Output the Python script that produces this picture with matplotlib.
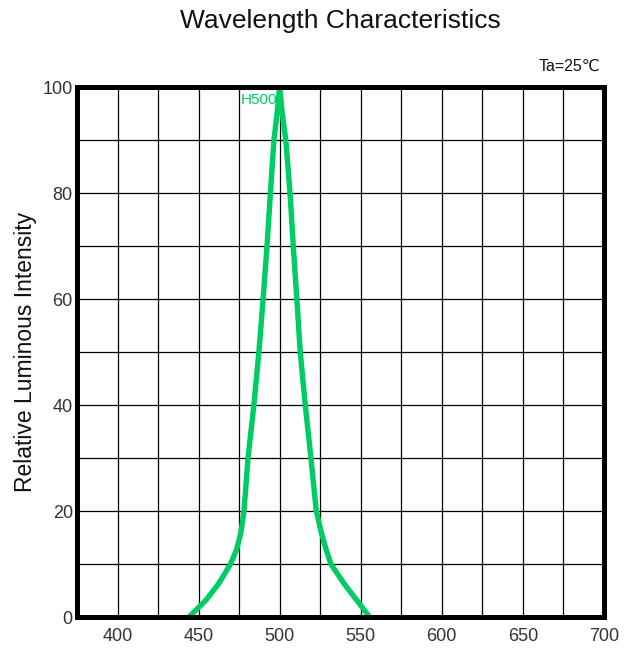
import matplotlib
matplotlib.use('Agg')
import matplotlib.pyplot as plt
import numpy as np

GREEN = '#00CC66'
TEXT = '#111111'

# curve (wavelength nm, relative intensity %)
wavelength = [444, 454.6, 462.6, 469.7, 473.3, 476, 478, 480.5, 484.1, 487.2,
              489.8, 492.2, 494.3, 496.5, 498.4, 500,
              501.6, 503.8, 506.4, 508.4, 510.6, 512.7, 515.8, 519.3, 522.6,
              525.8, 528.8, 531.6, 539.5, 547.5, 555.5]
intensity = [0, 3.2, 6.4, 10, 12.6, 15.8, 20, 30, 40, 50,
             60, 70, 80, 90, 95, 100,
             95, 90, 80, 70, 60, 50, 40, 30, 20,
             15.8, 12.6, 10, 6.4, 3.2, 0]

x_ticks = [400, 450, 500, 550, 600, 650, 700]
y_ticks = [0, 20, 40, 60, 80, 100]

plt.rcParams['font.family'] = ['Liberation Sans', 'DejaVu Sans']

fig = plt.figure(figsize=(6.37, 6.48), dpi=100)
ax = fig.add_axes([0.1209, 0.0478, 0.948 - 0.1209, 0.8657 - 0.0478])

ax.plot(wavelength, intensity, color=GREEN, lw=3.9, solid_capstyle='butt',
        solid_joinstyle='round', zorder=3)

ax.set_xlim(375, 700)
ax.set_ylim(0, 100)
ax.set_xticks(np.arange(375, 701, 25), minor=True)
ax.set_yticks(np.arange(0, 101, 10), minor=True)
ax.set_xticks(x_ticks)
ax.set_yticks(y_ticks)
ax.grid(True, which='both', color='black', lw=0.9)
ax.tick_params(which='both', length=0, labelsize=13, labelcolor='#333333')
ax.tick_params(axis='x', pad=8)
ax.tick_params(axis='y', pad=3)

for s in ax.spines.values():
    s.set_linewidth(3.6)
    s.set_color('black')
    s.set_zorder(4)

ax.set_ylabel('Relative Luminous Intensity', fontsize=16.5, color=TEXT, labelpad=4)

fig.text(0.534, 0.968, 'Wavelength Characteristics', fontsize=19,
         ha='center', va='center', color=TEXT)
fig.text(0.942, 0.898, 'Ta=25℃', fontsize=11.5, ha='right', va='center',
         color=TEXT)
ax.text(498.6, 97.6, 'H500', fontsize=11, color=GREEN, ha='right', va='center')

fig.savefig('out.png', dpi=100)
